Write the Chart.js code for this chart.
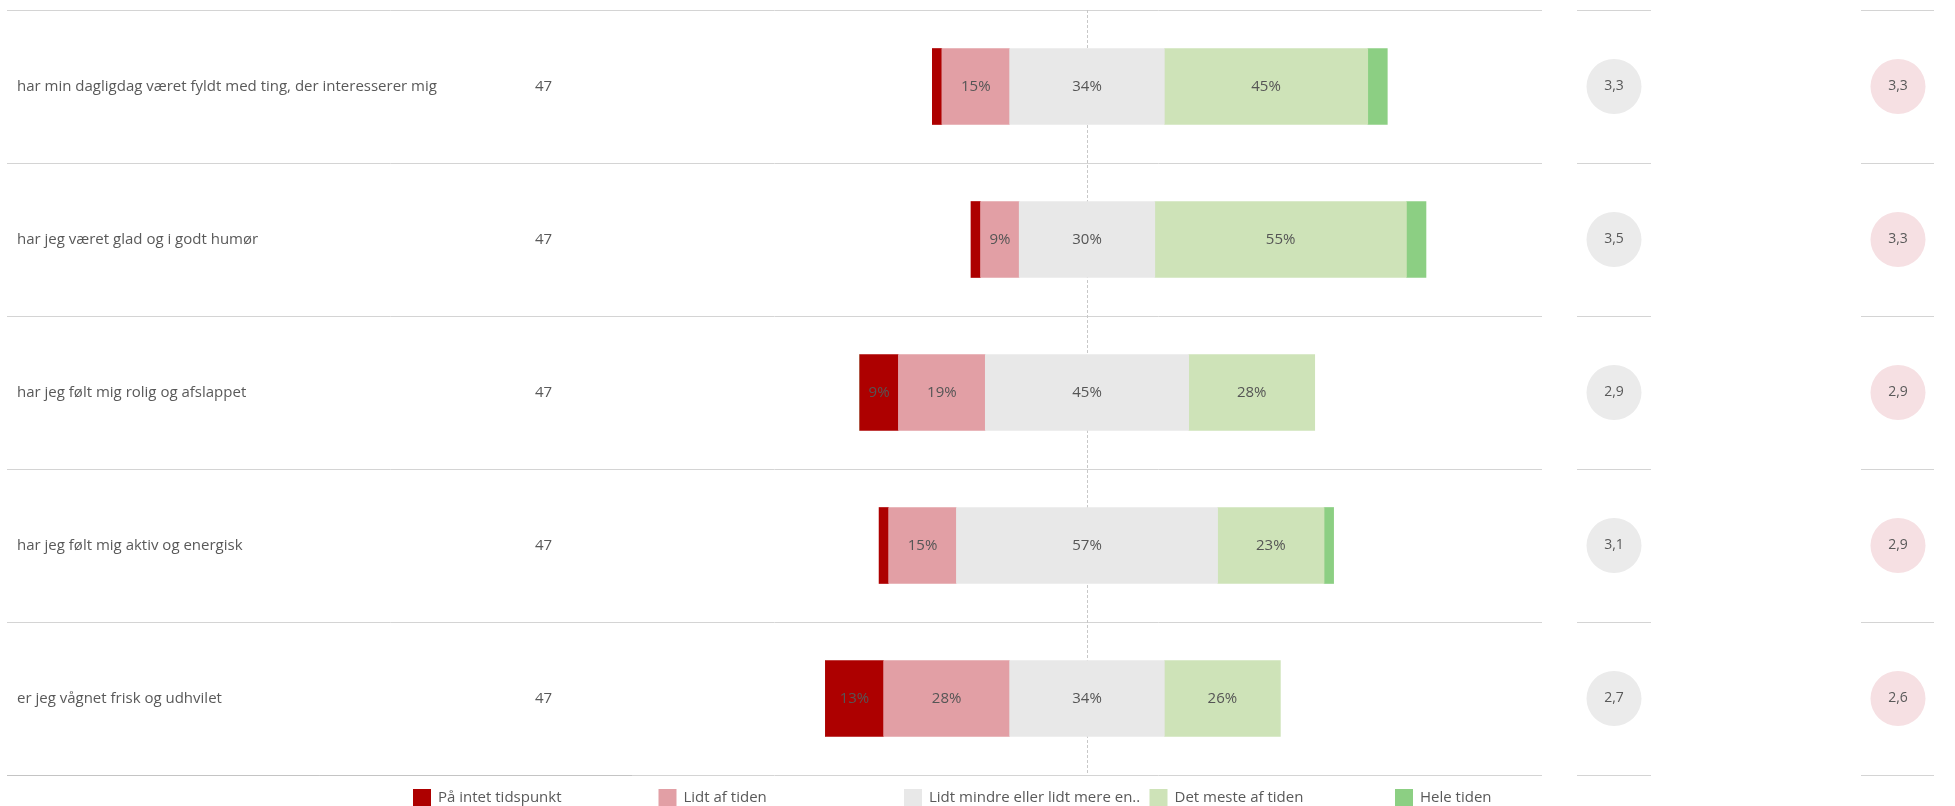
<!DOCTYPE html>
<html>
<head>
<meta charset="utf-8">
<script src="https://cdn.jsdelivr.net/npm/chart.js@4.4.1/dist/chart.umd.min.js"></script>
<style>
  html, body { margin: 0; padding: 0; background: #fff; }
  #wrap { width: 1955px; height: 806px; position: relative; }
</style>
</head>
<body>
<div id="wrap"><canvas id="myChart"></canvas></div>
<script>
const questions = [
  'har min dagligdag været fyldt med ting, der interesserer mig',
  'har jeg været glad og i godt humør',
  'har jeg følt mig rolig og afslappet',
  'har jeg følt mig aktiv og energisk',
  'er jeg vågnet frisk og udhvilet'
];
const respondents = [47, 47, 47, 47, 47];
const categories = ['På intet tidspunkt', 'Lidt af tiden', 'Lidt mindre eller lidt mere en..', 'Det meste af tiden', 'Hele tiden'];
const colors = ['#ad0000', '#e29fa5', '#e8e8e8', '#cee3b8', '#8ccf83'];

// andel i procent pr. svarkategori
const pctNever  = [2.1, 2.1, 8.5, 2.1, 12.8];
const pctLittle = [14.9, 8.5, 19.1, 14.9, 27.7];
const pctMiddle = [34.0, 29.8, 44.7, 57.4, 34.0];
const pctMost   = [44.7, 55.3, 27.7, 23.4, 25.5];
const pctAll    = [4.3, 4.3, 0, 2.1, 0];

const meanScores  = ['3,3', '3,5', '2,9', '3,1', '2,7'];
const benchScores = ['3,3', '3,3', '2,9', '2,9', '2,6'];

const series = [pctNever, pctLittle, pctMiddle, pctMost, pctAll];
const FONT = '"Open Sans", "Noto Sans", sans-serif';
const TXT = '#595959';

// neutral kategori deles om midterlinjen
const datasets = [
  { label: categories[2], data: pctMiddle.map(v => -v / 2), backgroundColor: colors[2] },
  { label: categories[1], data: pctLittle.map(v => -v), backgroundColor: colors[1] },
  { label: categories[0], data: pctNever.map(v => -v), backgroundColor: colors[0] },
  { label: categories[2], data: pctMiddle.map(v => v / 2), backgroundColor: colors[2] },
  { label: categories[3], data: pctMost, backgroundColor: colors[3] },
  { label: categories[4], data: pctAll, backgroundColor: colors[4] }
];
datasets.forEach(d => { d.borderWidth = 0; d.barThickness = 76; });

const tableLayer = {
  id: 'tableLayer',
  beforeDatasetsDraw(chart) {
    const { ctx, scales: { x, y } } = chart;
    const step = y.getPixelForValue(1) - y.getPixelForValue(0);
    ctx.save();
    // række-linjer
    ctx.lineWidth = 1;
    for (let i = 0; i <= questions.length; i++) {
      const yy = Math.round(y.getPixelForValue(0) - step / 2 + i * step) + 0.5;
      ctx.strokeStyle = '#d4d4d4';
      ctx.beginPath();
      ctx.moveTo(7, yy); ctx.lineTo(x.right, yy);
      ctx.moveTo(x.right + 35, yy); ctx.lineTo(x.right + 109, yy);
      ctx.moveTo(x.right + 319, yy); ctx.lineTo(x.right + 392, yy);
      ctx.stroke();
      if (i === questions.length) {
        ctx.strokeStyle = '#c4c4c4';
        ctx.beginPath(); ctx.moveTo(7, yy); ctx.lineTo(x.left, yy); ctx.stroke();
      }
    }
    // midterlinje
    const x0 = Math.round(x.getPixelForValue(0)) + 0.5;
    ctx.strokeStyle = '#c8c8c8';
    ctx.setLineDash([3, 2]);
    ctx.beginPath();
    ctx.moveTo(x0, y.getPixelForValue(0) - step / 2);
    ctx.lineTo(x0, y.getPixelForValue(questions.length - 1) + step / 2);
    ctx.stroke();
    ctx.setLineDash([]);

    // tekst-kolonner og cirkler
    ctx.textBaseline = 'middle';
    questions.forEach((q, i) => {
      const yc = y.getPixelForValue(i);
      ctx.fillStyle = TXT;
      ctx.font = '15px ' + FONT;
      ctx.textAlign = 'left';
      ctx.fillText(q, 17, yc);
      ctx.fillText(String(respondents[i]), 535, yc);

      ctx.fillStyle = '#ebebeb';
      ctx.beginPath(); ctx.arc(x.right + 72, yc, 27.5, 0, Math.PI * 2); ctx.fill();
      ctx.fillStyle = '#f6e0e3';
      ctx.beginPath(); ctx.arc(x.right + 356, yc, 27.5, 0, Math.PI * 2); ctx.fill();
      ctx.fillStyle = TXT;
      ctx.font = '14px ' + FONT;
      ctx.textAlign = 'center';
      ctx.fillText(meanScores[i], x.right + 72, yc);
      ctx.fillText(benchScores[i], x.right + 356, yc);
    });
    ctx.restore();
  },
  afterDatasetsDraw(chart) {
    const { ctx, scales: { x, y } } = chart;
    ctx.save();
    ctx.font = '15px ' + FONT;
    ctx.fillStyle = '#555';
    ctx.textAlign = 'center';
    ctx.textBaseline = 'middle';
    questions.forEach((q, i) => {
      let start = -(pctNever[i] + pctLittle[i] + pctMiddle[i] / 2);
      series.forEach(s => {
        const v = s[i];
        if (v >= 5) {
          const xc = (x.getPixelForValue(start) + x.getPixelForValue(start + v)) / 2;
          ctx.fillText(Math.round(v) + '%', xc, y.getPixelForValue(i));
        }
        start += v;
      });
    });
    // forklaring
    ctx.textAlign = 'left';
    categories.forEach((c, k) => {
      const lx = 413 + k * 245.5;
      ctx.fillStyle = colors[k];
      ctx.fillRect(lx, 789, 18, 18);
      ctx.fillStyle = TXT;
      ctx.fillText(c, lx + 25, 798);
    });
    ctx.restore();
  }
};

new Chart(document.getElementById('myChart'), {
  type: 'bar',
  data: { labels: questions, datasets: datasets },
  options: {
    indexAxis: 'y',
    responsive: true,
    maintainAspectRatio: false,
    animation: false,
    layout: { padding: { left: 632, right: 413, top: 10, bottom: 31 } },
    plugins: { legend: { display: false }, tooltip: { enabled: false } },
    scales: {
      x: { stacked: true, min: -100, max: 100, display: false },
      y: { stacked: true, display: false }
    }
  },
  plugins: [tableLayer]
});
</script>
</body>
</html>
